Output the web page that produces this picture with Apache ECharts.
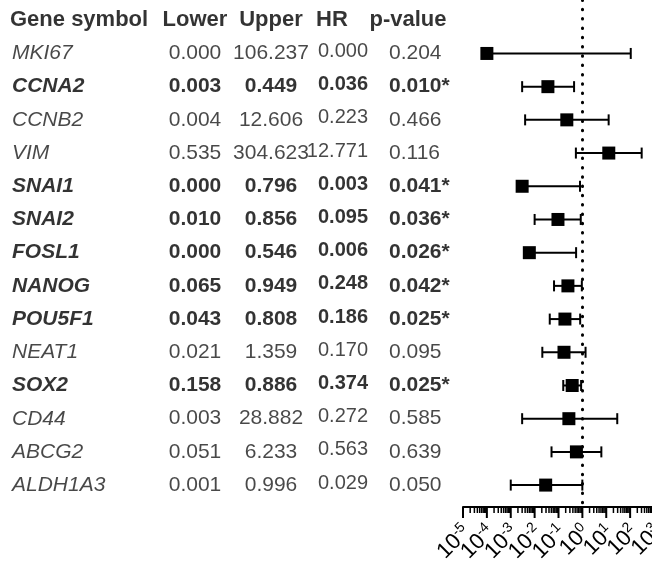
<!DOCTYPE html>
<html>
<head>
<meta charset="utf-8">
<script src="https://cdn.jsdelivr.net/npm/echarts@6/dist/echarts.min.js"></script>
<style>
	html, body { margin: 0; padding: 0; background: #fff; }
	#chart { width: 652px; height: 564px; }
</style>
</head>
<body>
<div id="chart"></div>
<script>
	// table text
	var headers = ['Gene symbol', 'Lower', 'Upper', 'HR', 'p-value'];
	var genes = ['MKI67', 'CCNA2', 'CCNB2', 'VIM', 'SNAI1', 'SNAI2', 'FOSL1', 'NANOG', 'POU5F1', 'NEAT1', 'SOX2', 'CD44', 'ABCG2', 'ALDH1A3'];
	var lowerTxt = ['0.000', '0.003', '0.004', '0.535', '0.000', '0.010', '0.000', '0.065', '0.043', '0.021', '0.158', '0.003', '0.051', '0.001'];
	var upperTxt = ['106.237', '0.449', '12.606', '304.623', '0.796', '0.856', '0.546', '0.949', '0.808', '1.359', '0.886', '28.882', '6.233', '0.996'];
	var hrTxt = ['0.000', '0.036', '0.223', '12.771', '0.003', '0.095', '0.006', '0.248', '0.186', '0.170', '0.374', '0.272', '0.563', '0.029'];
	var pTxt = ['0.204', '0.010', '0.466', '0.116', '0.041', '0.036', '0.026', '0.042', '0.025', '0.095', '0.025', '0.585', '0.639', '0.050'];
	var sig = [false, true, false, false, true, true, true, true, true, false, true, false, false, false];

	var hrPoint = [0.0001, 0.036, 0.223, 12.771, 0.003, 0.095, 0.006, 0.248, 0.186, 0.170, 0.374, 0.272, 0.563, 0.029];
	var lowerPoint = ['-', 0.003, 0.004, 0.535, '-', 0.010, '-', 0.065, 0.043, 0.021, 0.158, 0.003, 0.051, 0.001];
	var upperPoint = [106.237, 0.449, 12.606, 304.623, 0.796, 0.856, 0.546, 0.949, 0.808, 1.359, 0.886, 28.882, 6.233, 0.996];

	// axis ticks and their labels (exponents of 10)
	var decades = [1e-5, 1e-4, 1e-3, 1e-2, 1e-1, 1e0, 1e1, 1e2, 1e3];
	var decadeExp = ['-5', '-4', '-3', '-2', '-1', '0', '1', '2', '3'];
	var minorSteps = [2, 3, 4, 5, 6, 7, 8, 9];

	var yMin = -1.61, yMax = 13.66;
	var font = "'Liberation Sans', Arial, sans-serif";

	var minorVals = [];
	for (var d = 0; d < decades.length - 1; d++) {
		for (var m = 0; m < minorSteps.length; m++) {
			minorVals.push([minorSteps[m] * decades[d]]);
		}
	}
	var majorVals = decades.map(function (v, k) { return [v, k]; });

	var ciData = [];
	for (var i = 0; i < genes.length; i++) {
		ciData.push([lowerPoint[i], upperPoint[i], hrPoint[i], i]);
	}

	function textSeries(name, x, align, getText, opts) {
		opts = opts || {};
		var data = [];
		for (var i = 0; i < genes.length; i++) {
			data.push({
				name: getText(i),
				value: [x, i],
				label: {
					fontWeight: sig[i] ? 'bold' : 'normal',
					color: sig[i] ? '#000' : '#1a1a1a'
				}
			});
		}
		return {
			name: name,
			type: 'scatter',
			xAxisIndex: 1,
			yAxisIndex: 1,
			symbolSize: 0,
			silent: true,
			data: data,
			label: {
				show: true,
				position: 'inside',
				align: align,
				verticalAlign: 'middle',
				offset: opts.offset || [0, 0],
				fontFamily: font,
				fontSize: opts.size || 21,
				fontStyle: opts.italic ? 'italic' : 'normal',
				formatter: function (p) { return p.name; }
			}
		};
	}

	var headerX = [10, 195, 271, 332, 408];
	var headerAlign = ['left', 'center', 'center', 'center', 'center'];
	var headerData = headers.map(function (h, k) {
		return { name: h, value: [headerX[k], -1], label: { align: headerAlign[k] } };
	});

	var myChart = echarts.init(document.getElementById('chart'));
	myChart.setOption({
		animation: false,
		grid: [
			{ left: 463, top: 0, width: 191, height: 507, outerBoundsMode: 'none', containLabel: false },
			{ left: 0, top: 0, width: 460, height: 507, outerBoundsMode: 'none', containLabel: false }
		],
		xAxis: [{
			type: 'log',
			gridIndex: 0,
			logBase: 10,
			min: 1e-5,
			max: 1e3,
			splitLine: { show: false },
			axisLine: { show: true, onZero: false, lineStyle: { color: '#000', width: 2 } },
			axisTick: { show: false },
			axisLabel: { show: false }
		}, {
			type: 'value',
			gridIndex: 1,
			min: 0,
			max: 460,
			show: false
		}],
		yAxis: [{
			type: 'value',
			gridIndex: 0,
			min: yMin,
			max: yMax,
			inverse: true,
			show: false
		}, {
			type: 'value',
			gridIndex: 1,
			min: yMin,
			max: yMax,
			inverse: true,
			show: false
		}],
		series: [{
			name: 'CI',
			type: 'custom',
			xAxisIndex: 0,
			yAxisIndex: 0,
			silent: true,
			encode: { x: [0, 1, 2], y: 3 },
			data: ciData,
			renderItem: function (params, api) {
				var row = api.value(3);
				var loV = api.value(0);
				var pHr = api.coord([api.value(2), row]);
				var pHi = api.coord([api.value(1), row]);
				var hasLo = !isNaN(loV) && loV > 0;
				var pLo = hasLo ? api.coord([loV, row]) : pHr;
				var cap = 5.5, half = 6.5;
				var st = { stroke: '#000', lineWidth: 2 };
				var children = [
					{ type: 'line', shape: { x1: pLo[0], y1: pLo[1], x2: pHi[0], y2: pHi[1] }, style: st },
					{ type: 'line', shape: { x1: pHi[0], y1: pHi[1] - cap, x2: pHi[0], y2: pHi[1] + cap }, style: st }
				];
				if (hasLo) {
					children.push({ type: 'line', shape: { x1: pLo[0], y1: pLo[1] - cap, x2: pLo[0], y2: pLo[1] + cap }, style: st });
				}
				children.push({ type: 'rect', shape: { x: pHr[0] - half, y: pHr[1] - half, width: half * 2, height: half * 2 }, style: { fill: '#000' } });
				return { type: 'group', children: children };
			},
			markLine: {
				silent: true,
				symbol: 'none',
				label: { show: false },
				lineStyle: { color: '#000', width: 3, type: [0.5, 8.8], cap: 'round' },
				data: [{ xAxis: 1 }]
			}
		}, {
			// minor ticks of the log axis
			name: 'minorTicks',
			type: 'custom',
			xAxisIndex: 0,
			yAxisIndex: 0,
			silent: true,
			clip: false,
			encode: { x: 0 },
			data: minorVals,
			renderItem: function (params, api) {
				var p = api.coord([api.value(0), yMax]);
				return { type: 'line', shape: { x1: p[0], y1: p[1], x2: p[0], y2: p[1] + 6 }, style: { stroke: '#000', lineWidth: 1.5 } };
			}
		}, {
			// major ticks + 10^n labels
			name: 'majorTicks',
			type: 'custom',
			xAxisIndex: 0,
			yAxisIndex: 0,
			silent: true,
			clip: false,
			encode: { x: 0 },
			data: majorVals,
			renderItem: function (params, api) {
				var p = api.coord([api.value(0), yMax]);
				var k = api.value(1);
				return {
					type: 'group',
					children: [{
						type: 'line',
						shape: { x1: p[0], y1: p[1], x2: p[0], y2: p[1] + 11 },
						style: { stroke: '#000', lineWidth: 2 }
					}, {
						type: 'text',
						x: p[0] + 4,
						y: p[1] + 22,
						rotation: Math.PI / 4,
						style: {
							text: '{b|10}{s|' + decadeExp[k] + '}',
							align: 'right',
							verticalAlign: 'middle',
							fill: '#000',
							rich: {
								b: { fontSize: 22, fontFamily: font, fill: '#000' },
								s: { fontSize: 14, fontFamily: font, fill: '#000', padding: [0, 0, 11, 0] }
							}
						}
					}]
				};
			}
		},
		textSeries('gene', 12, 'left', function (i) { return genes[i]; }, { italic: true }),
		textSeries('lower', 195, 'center', function (i) { return lowerTxt[i]; }),
		textSeries('upper', 271, 'center', function (i) { return upperTxt[i]; }),
		textSeries('hr', 368, 'right', function (i) { return hrTxt[i]; }, { offset: [0, -2], size: 20 }),
		textSeries('p', 389, 'left', function (i) { return pTxt[i] + (sig[i] ? '*' : ''); }),
		{
			name: 'header',
			type: 'scatter',
			xAxisIndex: 1,
			yAxisIndex: 1,
			symbolSize: 0,
			silent: true,
			data: headerData,
			label: {
				show: true,
				position: 'inside',
				verticalAlign: 'middle',
				fontFamily: font,
				fontSize: 22,
				fontWeight: 'bold',
				color: '#000',
				formatter: function (p) { return p.name; }
			}
		}]
	});
</script>
</body>
</html>
